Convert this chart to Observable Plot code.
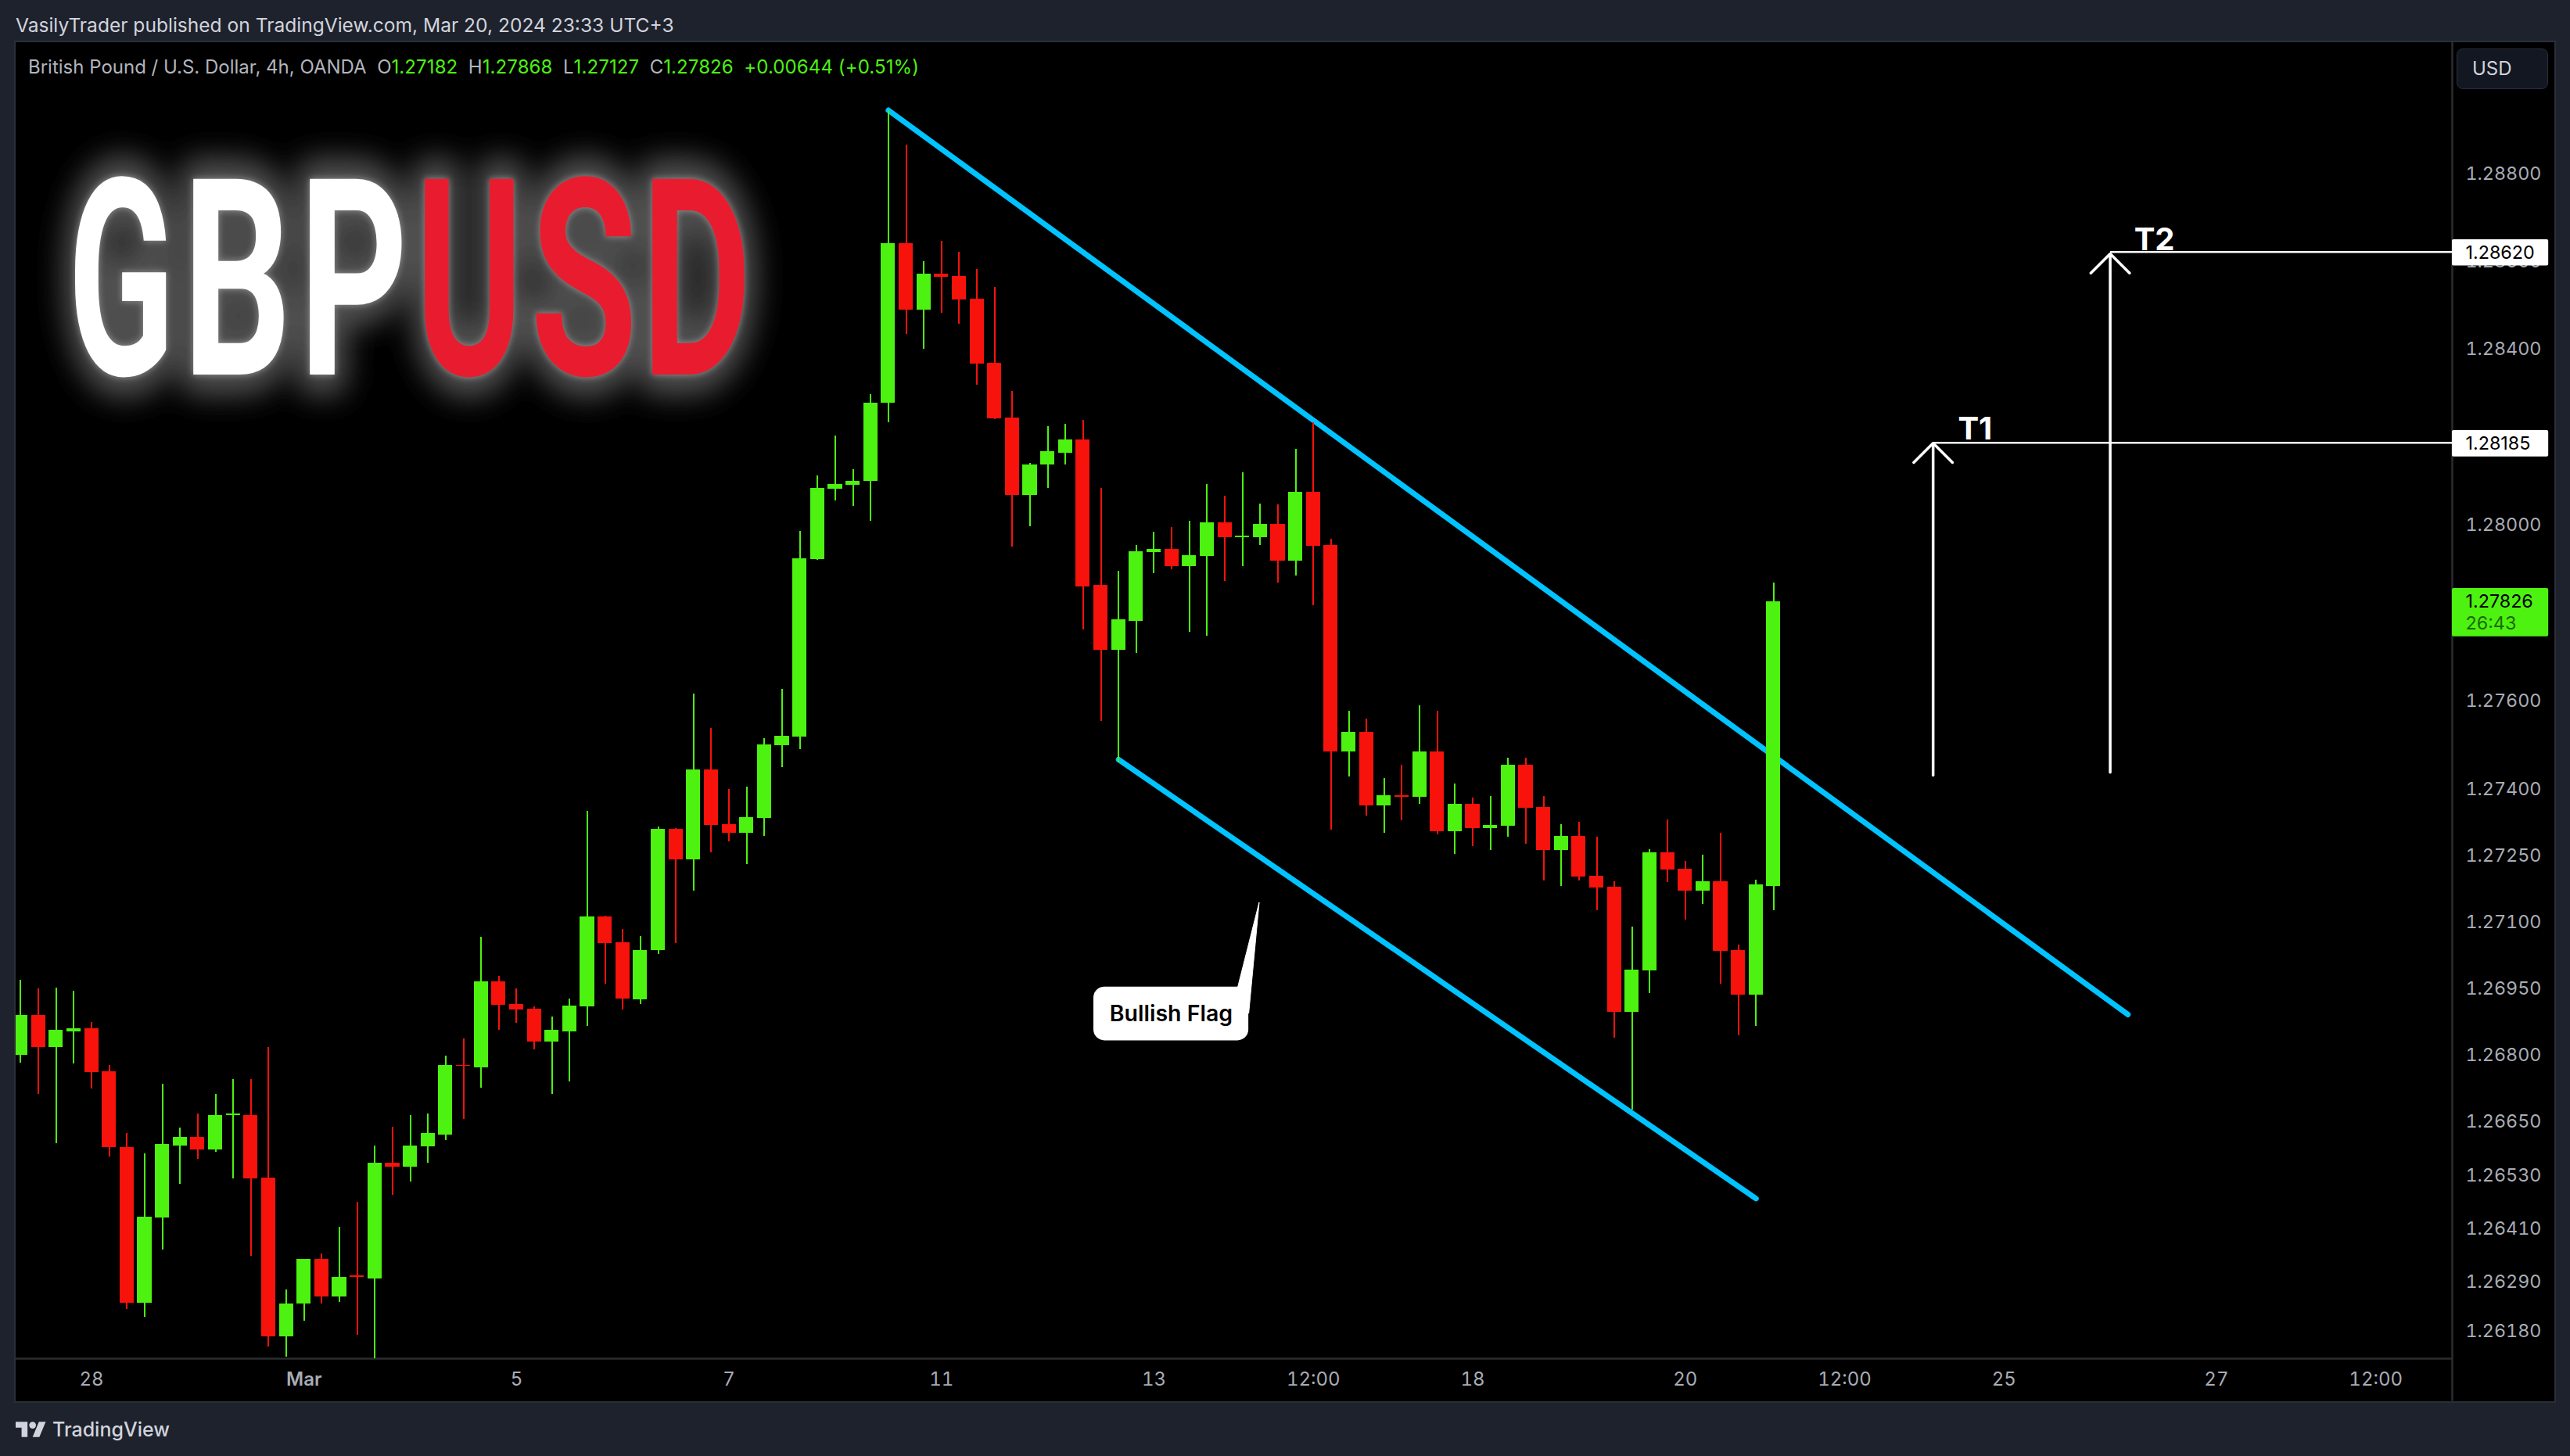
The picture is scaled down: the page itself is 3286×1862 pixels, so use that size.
<!DOCTYPE html>
<html><head><meta charset="utf-8">
<script src="https://cdn.jsdelivr.net/npm/d3@7"></script>
<script src="https://cdn.jsdelivr.net/npm/@observablehq/plot@0.6"></script>
<style>
html,body{margin:0;padding:0;width:3286px;height:1862px;background:#1e222d;overflow:hidden;font-family:Inter,sans-serif}
#head{position:absolute;left:20px;top:17px;font-size:24.55px;line-height:30px;color:#d1d4dc;white-space:pre}
#pane{position:absolute;left:20px;top:54px;width:3246px;height:1738px;outline:2px solid #2a2e39;background:#000}
#legend{position:absolute;left:36px;top:71px;font-size:24px;line-height:30px;color:#b2b5be;white-space:pre}
#legend b{font-weight:400;color:#4df211;letter-spacing:.1px}
#usd{position:absolute;left:3141px;top:62px;width:117px;height:52px;box-sizing:border-box;background:#131722;border:1px solid #2a2e39;border-radius:8px;color:#d1d4dc;font-size:24px;line-height:50px;padding-left:19px}
#foot{position:absolute;left:20px;top:1813px;height:30px;display:flex;align-items:center;color:#d1d4dc;font-size:25px;font-weight:500}
#foot svg{margin-right:8px}
</style></head><body>
<div id="pane"></div>
<div id="head">VasilyTrader published on TradingView.com, Mar 20, 2024 23:33 UTC+3</div>
<div id="legend">British Pound / U.S. Dollar, 4h, OANDA  O<b>1.27182</b>  H<b>1.27868</b>  L<b>1.27127</b>  C<b>1.27826</b>  <b>+0.00644 (+0.51%)</b></div>
<div id="usd">USD</div>
<div id="foot"><svg width="39" height="20" viewBox="0 4 36 18"><path fill="#d1d4dc" d="M14 22H7V11H0V4h14v18zM28 22h-8l7.5-18h8L28 22z"/><circle fill="#d1d4dc" cx="20" cy="8" r="4"/></svg>TradingView</div>
<script>
const opens=[1.26801,1.26891,1.26818,1.26854,1.26860,1.26763,1.26593,1.26244,1.26434,1.26596,1.26615,1.26588,1.26664,1.26665,1.26524,1.26168,1.26241,1.26341,1.26258,1.26304,1.26298,1.26558,1.26549,1.26595,1.26621,1.26778,1.26773,1.26966,1.26915,1.26904,1.26831,1.26854,1.26909,1.27113,1.27054,1.26926,1.27036,1.27310,1.27241,1.27445,1.27321,1.27301,1.27335,1.27500,1.27519,1.27921,1.28081,1.28091,1.28099,1.28277,1.28641,1.28489,1.28572,1.28566,1.28514,1.28368,1.28243,1.28068,1.28136,1.28164,1.28193,1.27863,1.27716,1.27782,1.27938,1.27945,1.27906,1.27929,1.28005,1.27972,1.27972,1.28002,1.27918,1.28075,1.27954,1.27485,1.27529,1.27364,1.27387,1.27382,1.27485,1.27305,1.27367,1.27312,1.27317,1.27455,1.27359,1.27262,1.27294,1.27204,1.27179,1.26897,1.26991,1.27258,1.27220,1.27170,1.27191,1.27037,1.26936,1.27182];
const highs=[1.26969,1.26950,1.26951,1.26944,1.26875,1.26778,1.26624,1.26579,1.26736,1.26637,1.26668,1.26713,1.26745,1.26745,1.26818,1.26273,1.26342,1.26354,1.26413,1.26470,1.26596,1.26639,1.26665,1.26668,1.26798,1.26837,1.27066,1.26978,1.26950,1.26909,1.26887,1.26927,1.27351,1.27114,1.27084,1.27068,1.27316,1.27312,1.27616,1.27538,1.27401,1.27406,1.27516,1.27627,1.27985,1.28111,1.28202,1.28126,1.28297,1.28945,1.28866,1.28600,1.28646,1.28622,1.28582,1.28541,1.28304,1.28141,1.28223,1.28229,1.28238,1.28084,1.27895,1.27954,1.27984,1.27995,1.28009,1.28092,1.28065,1.28118,1.28048,1.28046,1.28173,1.28233,1.27968,1.27577,1.27559,1.27425,1.27455,1.27590,1.27577,1.27413,1.27381,1.27384,1.27471,1.27471,1.27384,1.27321,1.27326,1.27293,1.27191,1.27090,1.27264,1.27331,1.27237,1.27252,1.27301,1.27048,1.27196,1.27868];
const lows=[1.26782,1.26712,1.26602,1.26781,1.26725,1.26572,1.26229,1.26212,1.26362,1.26511,1.26567,1.26583,1.26523,1.26348,1.26145,1.26122,1.26203,1.26242,1.26245,1.26172,1.26100,1.26486,1.26515,1.26558,1.26609,1.26656,1.26727,1.26856,1.26872,1.26812,1.26712,1.26741,1.26866,1.26960,1.26902,1.26915,1.27027,1.27053,1.27170,1.27257,1.27282,1.27230,1.27294,1.27450,1.27491,1.27920,1.28055,1.28042,1.28009,1.28232,1.28434,1.28400,1.28482,1.28457,1.28318,1.28239,1.27950,1.27997,1.28084,1.28137,1.27761,1.27555,1.27461,1.27709,1.27890,1.27899,1.27757,1.27748,1.27871,1.27906,1.27954,1.27869,1.27885,1.27816,1.27308,1.27428,1.27341,1.27301,1.27330,1.27366,1.27298,1.27253,1.27272,1.27262,1.27293,1.27277,1.27193,1.27181,1.27193,1.27127,1.26839,1.26677,1.26940,1.27190,1.27105,1.27141,1.26961,1.26844,1.26866,1.27127];
const closes=[1.26891,1.26818,1.26856,1.26860,1.26761,1.26592,1.26244,1.26436,1.26599,1.26615,1.26588,1.26665,1.26668,1.26523,1.26168,1.26242,1.26341,1.26258,1.26302,1.26301,1.26558,1.26549,1.26596,1.26624,1.26777,1.26775,1.26966,1.26913,1.26902,1.26831,1.26856,1.26911,1.27113,1.27052,1.26927,1.27037,1.27310,1.27241,1.27445,1.27319,1.27301,1.27336,1.27501,1.27521,1.27923,1.28083,1.28093,1.28100,1.28278,1.28641,1.28489,1.28572,1.28564,1.28513,1.28366,1.28241,1.28068,1.28137,1.28166,1.28193,1.27859,1.27716,1.27784,1.27940,1.27945,1.27906,1.27931,1.28005,1.27972,1.27975,1.28002,1.27918,1.28075,1.27952,1.27485,1.27529,1.27364,1.27387,1.27382,1.27485,1.27305,1.27367,1.27312,1.27319,1.27455,1.27358,1.27262,1.27294,1.27202,1.27177,1.26897,1.26993,1.27258,1.27218,1.27170,1.27191,1.27035,1.26936,1.27184,1.27826];

const priceTicks=[1.288,1.286,1.284,1.28,1.276,1.274,1.2725,1.271,1.2695,1.268,1.2665,1.2653,1.2641,1.2629,1.2618];
const timeBars=[4,28,40,52,64,73,82,94,103,112,124,133];
const timeLabels=["28","5","7","11","13","12:00","18","20","12:00","25","27","12:00"];
const monthBars=[16];
const monthLabels=["Mar"];

const upperChannel=[{bar:49,price:1.28946},{bar:119,price:1.26892}];
const lowerChannel=[{bar:62,price:1.27468},{bar:98,price:1.26478}];
const targets=[{name:"T1",bar:108,from:1.27432,tip:1.28186,price:1.28187,labelBar:109.4,labelPrice:1.28194},
               {name:"T2",bar:118,from:1.27439,tip:1.28618,price:1.28622,labelBar:119.35,labelPrice:1.28626}];
const tagPrices=[1.28620,1.28185];
const calloutBox=[{x1:60.6,x2:69.35,y1:1.26833,y2:1.26954}];
const calloutTail=[{bar:68.7,price:1.26949},{bar:69.94,price:1.27145},{bar:69.35,price:1.26895}];
const calloutText=[{bar:64.97,price:1.26893,text:"Bullish Flag"}];

const xDomain=[-0.265,137.32], yDomain=[1.26119,1.29101];
const tagEnd=142.76;
const GREEN="#4df211", RED="#f7120c", CYAN="#00c3ff", AXIS="#a9acb5", LINE="#2a2c30";
const candles=opens.map((o,i)=>({i,o,h:highs[i],l:lows[i],c:closes[i],col:closes[i]>=o?GREEN:RED}));

const logoLetters=[["G",73,195,"#fff"],["B",227,343,"#fff"],["P",376,494,"#fff"],["U",521,638,"#e81c2e"],["S",665,790,"#e81c2e"],["D",814,932,"#e81c2e"]];
function logo(){
  const font="Roboto", size=352, base=425;
  const ctx=document.createElement("canvas").getContext("2d");
  ctx.font=`700 ${size}px ${font}`;
  const g=d3.create("svg:g").attr("text-anchor","start");
  const defs=g.append("defs");
  defs.append("filter").attr("id","gl1").attr("x","-60%").attr("y","-60%").attr("width","220%").attr("height","220%").append("feGaussianBlur").attr("stdDeviation",18);
  defs.append("filter").attr("id","gl2").attr("x","-30%").attr("y","-30%").attr("width","160%").attr("height","160%").append("feGaussianBlur").attr("stdDeviation",4);
  const layers=[{stroke:"#505050",w:54,fill:"#505050",f:"url(#gl1)",o:1},{stroke:"#fff",w:2,fill:"#fff",f:"url(#gl2)",o:.35},{f:null,o:1,w:0}];
  for(const L of layers){
    const lg=g.append("g").attr("opacity",L.o); if(L.f) lg.attr("filter",L.f);
    for(const [ch,x0,x1,col] of logoLetters){
      const m=ctx.measureText(ch), ink=m.actualBoundingBoxLeft+m.actualBoundingBoxRight, s=(x1-x0)/ink;
      lg.append("text").text(ch).attr("transform",`translate(${x0+m.actualBoundingBoxLeft*s},${base}) scale(${s},1)`)
        .attr("font-family",font).attr("font-weight",700).attr("font-size",size)
        .attr("fill",L.fill||col).attr("stroke",L.stroke||col).attr("stroke-width",L.w).attr("stroke-linejoin","round");
    }
  }
  return g.node();
}

const chart=Plot.plot({
  width:3246,height:1738,marginLeft:0,marginRight:131,marginTop:0,marginBottom:55,
  style:{background:"#000",fontFamily:"Inter",color:AXIS,overflow:"hidden"},
  x:{type:"linear",domain:xDomain},
  y:{type:"log",domain:yDomain},
  marks:[
    logo,
    Plot.axisY({anchor:"right",ticks:priceTicks,tickFormat:d=>d.toFixed(5),tickSize:0,tickPadding:17,fontSize:23.3,label:null,fill:AXIS}),
    Plot.axisX({anchor:"bottom",ticks:timeBars,tickFormat:d=>timeLabels[timeBars.indexOf(d)],tickSize:0,tickPadding:17,fontSize:24,label:null,fill:AXIS}),
    Plot.axisX({anchor:"bottom",ticks:monthBars,tickFormat:d=>monthLabels[monthBars.indexOf(d)],tickSize:0,tickPadding:17,fontSize:24,fontWeight:600,label:null,fill:AXIS}),
    Plot.ruleY([yDomain[0]],{stroke:LINE,strokeWidth:2.5}),
    Plot.ruleX([xDomain[1]],{y1:yDomain[1],y2:1.26023,stroke:LINE,strokeWidth:2.5}),
    Plot.line(upperChannel,{x:"bar",y:"price",stroke:CYAN,strokeWidth:7,strokeLinecap:"round"}),
    Plot.line(lowerChannel,{x:"bar",y:"price",stroke:CYAN,strokeWidth:7,strokeLinecap:"round"}),
    Plot.ruleX(candles,{x:"i",y1:"l",y2:"h",stroke:"col",strokeWidth:2,clip:true,shapeRendering:"crispEdges"}),
    Plot.rect(candles,{x1:d=>d.i-.4,x2:d=>d.i+.4,y1:"o",y2:"c",fill:"col",clip:true,shapeRendering:"crispEdges"}),
    Plot.line(calloutTail,{x:"bar",y:"price",fill:"#fff",stroke:"#fff",strokeWidth:1}),
    Plot.rect(calloutBox,{x1:"x1",x2:"x2",y1:"y1",y2:"y2",fill:"#fff",rx:14}),
    Plot.text(calloutText,{x:"bar",y:"price",text:"text",fill:"#000",fontSize:28.5,fontWeight:600}),
    Plot.link(targets,{x1:"bar",x2:xDomain[1],y1:"price",y2:"price",stroke:"#fff",strokeWidth:2.5}),
    Plot.arrow(targets,{x1:"bar",x2:"bar",y1:"from",y2:"tip",stroke:"#fff",strokeWidth:3.5,headAngle:90,headLength:15}),
    Plot.text(targets,{x:"labelBar",y:"labelPrice",text:"name",fill:"#fff",fontSize:40,fontWeight:700,textAnchor:"start",lineAnchor:"bottom"}),
    Plot.rect(tagPrices,{x1:xDomain[1],x2:tagEnd,y1:d=>d-.0003,y2:d=>d+.0003,fill:"#fff",rx:2}),
    Plot.text(tagPrices,{y:d=>d,text:d=>d.toFixed(5),frameAnchor:"right",textAnchor:"start",dx:17,fill:"#000",fontSize:23.3}),
    Plot.rect([{y1:1.27746,y2:1.27856}],{x1:xDomain[1],x2:tagEnd,y1:"y1",y2:"y2",fill:GREEN,rx:2}),
    Plot.text([1.27826],{y:d=>d,text:d=>d.toFixed(5),frameAnchor:"right",textAnchor:"start",dx:17,fill:"#000",fontSize:23.3}),
    Plot.text(["26:43"],{y:[1.27776],text:d=>d,frameAnchor:"right",textAnchor:"start",dx:17,fill:"#1c6a03",fontSize:23.3})
  ]
});
document.getElementById("pane").appendChild(chart);
</script>
</body></html>
